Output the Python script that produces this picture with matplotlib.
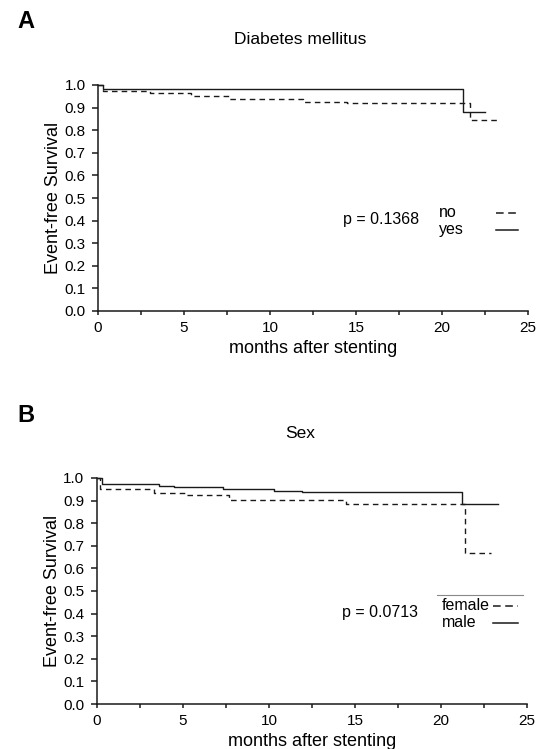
import matplotlib
matplotlib.use("Agg")
import matplotlib.pyplot as plt
from matplotlib.ticker import MultipleLocator, FormatStrFormatter

plt.rcParams['font.family'] = ['Liberation Sans', 'DejaVu Sans']

# Data: Kaplan-Meier steps (months, survival)
dm_no_t = [0, 0.3, 3.0, 5.4, 7.6, 11.9, 14.5, 21.6, 23.4]
dm_no_s = [1.0, 0.973, 0.963, 0.953, 0.937, 0.926, 0.919, 0.847, 0.847]
dm_yes_t = [0, 0.3, 21.2, 22.5]
dm_yes_s = [1.0, 0.982, 0.882, 0.882]

sex_female_t = [0, 0.2, 3.3, 5.1, 7.7, 14.5, 21.4, 22.9]
sex_female_s = [1.0, 0.950, 0.935, 0.925, 0.903, 0.885, 0.667, 0.667]
sex_male_t = [0, 0.3, 3.6, 4.5, 7.3, 10.3, 11.9, 21.2, 23.3]
sex_male_s = [1.0, 0.973, 0.966, 0.959, 0.951, 0.942, 0.937, 0.887, 0.887]

panels = [
    dict(letter='A', title='Diabetes mellitus', p='p = 0.1368',
         curves=[('no', dm_no_t, dm_no_s, '--'), ('yes', dm_yes_t, dm_yes_s, '-')],
         rect=[98 / 551, 1 - 311 / 749, 430 / 551, 226 / 749],
         leg_x=0.793, leg_line=(0.926, 0.977), top_px=85),
    dict(letter='B', title='Sex', p='p = 0.0713',
         curves=[('female', sex_female_t, sex_female_s, '--'), ('male', sex_male_t, sex_male_s, '-')],
         rect=[97 / 551, 1 - 704 / 749, 430 / 551, 226 / 749],
         leg_x=0.802, leg_line=(0.921, 0.979), top_px=478),
]

fig = plt.figure(figsize=(5.51, 7.49), dpi=100)
ink = '#1a1a1a'

for i, pn in enumerate(panels):
    ax = fig.add_axes(pn['rect'])
    for label, t, s, ls in pn['curves']:
        kw = dict(dashes=(4, 3)) if ls == '--' else {}
        ax.step(t, s, where='post', color=ink, lw=1.0, linestyle=ls,
                clip_on=False, **kw)

    ax.set_xlim(0, 25)
    ax.set_ylim(0, 1.0)
    ax.xaxis.set_major_locator(MultipleLocator(5))
    ax.xaxis.set_minor_locator(MultipleLocator(2.5))
    ax.yaxis.set_major_locator(MultipleLocator(0.1))
    ax.yaxis.set_major_formatter(FormatStrFormatter('%.1f'))
    for side in ['top', 'right']:
        ax.spines[side].set_visible(False)
    for side in ['left', 'bottom']:
        ax.spines[side].set_linewidth(1.1)
        ax.spines[side].set_color(ink)
    ax.tick_params(axis='x', which='both', length=3, width=1.1, pad=4,
                   labelsize=11, color=ink)
    ax.tick_params(axis='y', length=4, width=1.1, pad=5, labelsize=11, color=ink)
    ax.set_xlabel('months after stenting', fontsize=13, labelpad=4)
    ax.set_ylabel('Event-free Survival', fontsize=13, labelpad=2)

    # p value and legend (labels left, line samples right)
    ax.text(0.57, 0.405, pn['p'], transform=ax.transAxes, fontsize=11.5,
            va='center', ha='left')
    rows = [0.435, 0.362]
    for (label, t, s, ls), yy in zip(pn['curves'], rows):
        ax.text(pn['leg_x'], yy, label, transform=ax.transAxes, fontsize=11.5,
                va='center', ha='left')
        kw = dict(dashes=(5, 3)) if ls == '--' else {}
        ax.plot(pn['leg_line'], [yy - 0.002, yy - 0.002], transform=ax.transAxes,
                color=ink, lw=1.1, linestyle=ls, clip_on=False, **kw)
    if i == 1:
        ax.plot([0.79, 0.99], [0.482, 0.482], transform=ax.transAxes,
                color='#888888', lw=0.8, clip_on=False)

    top_px = pn['top_px']
    fig.text(17 / 551, 1 - (top_px - 63) / 749, pn['letter'], fontsize=17,
             fontweight='bold', va='center', ha='left')
    fig.text(300 / 551, 1 - (top_px - 45) / 749, pn['title'], fontsize=12.5,
             va='center', ha='center')

fig.savefig('out.png', dpi=100)
